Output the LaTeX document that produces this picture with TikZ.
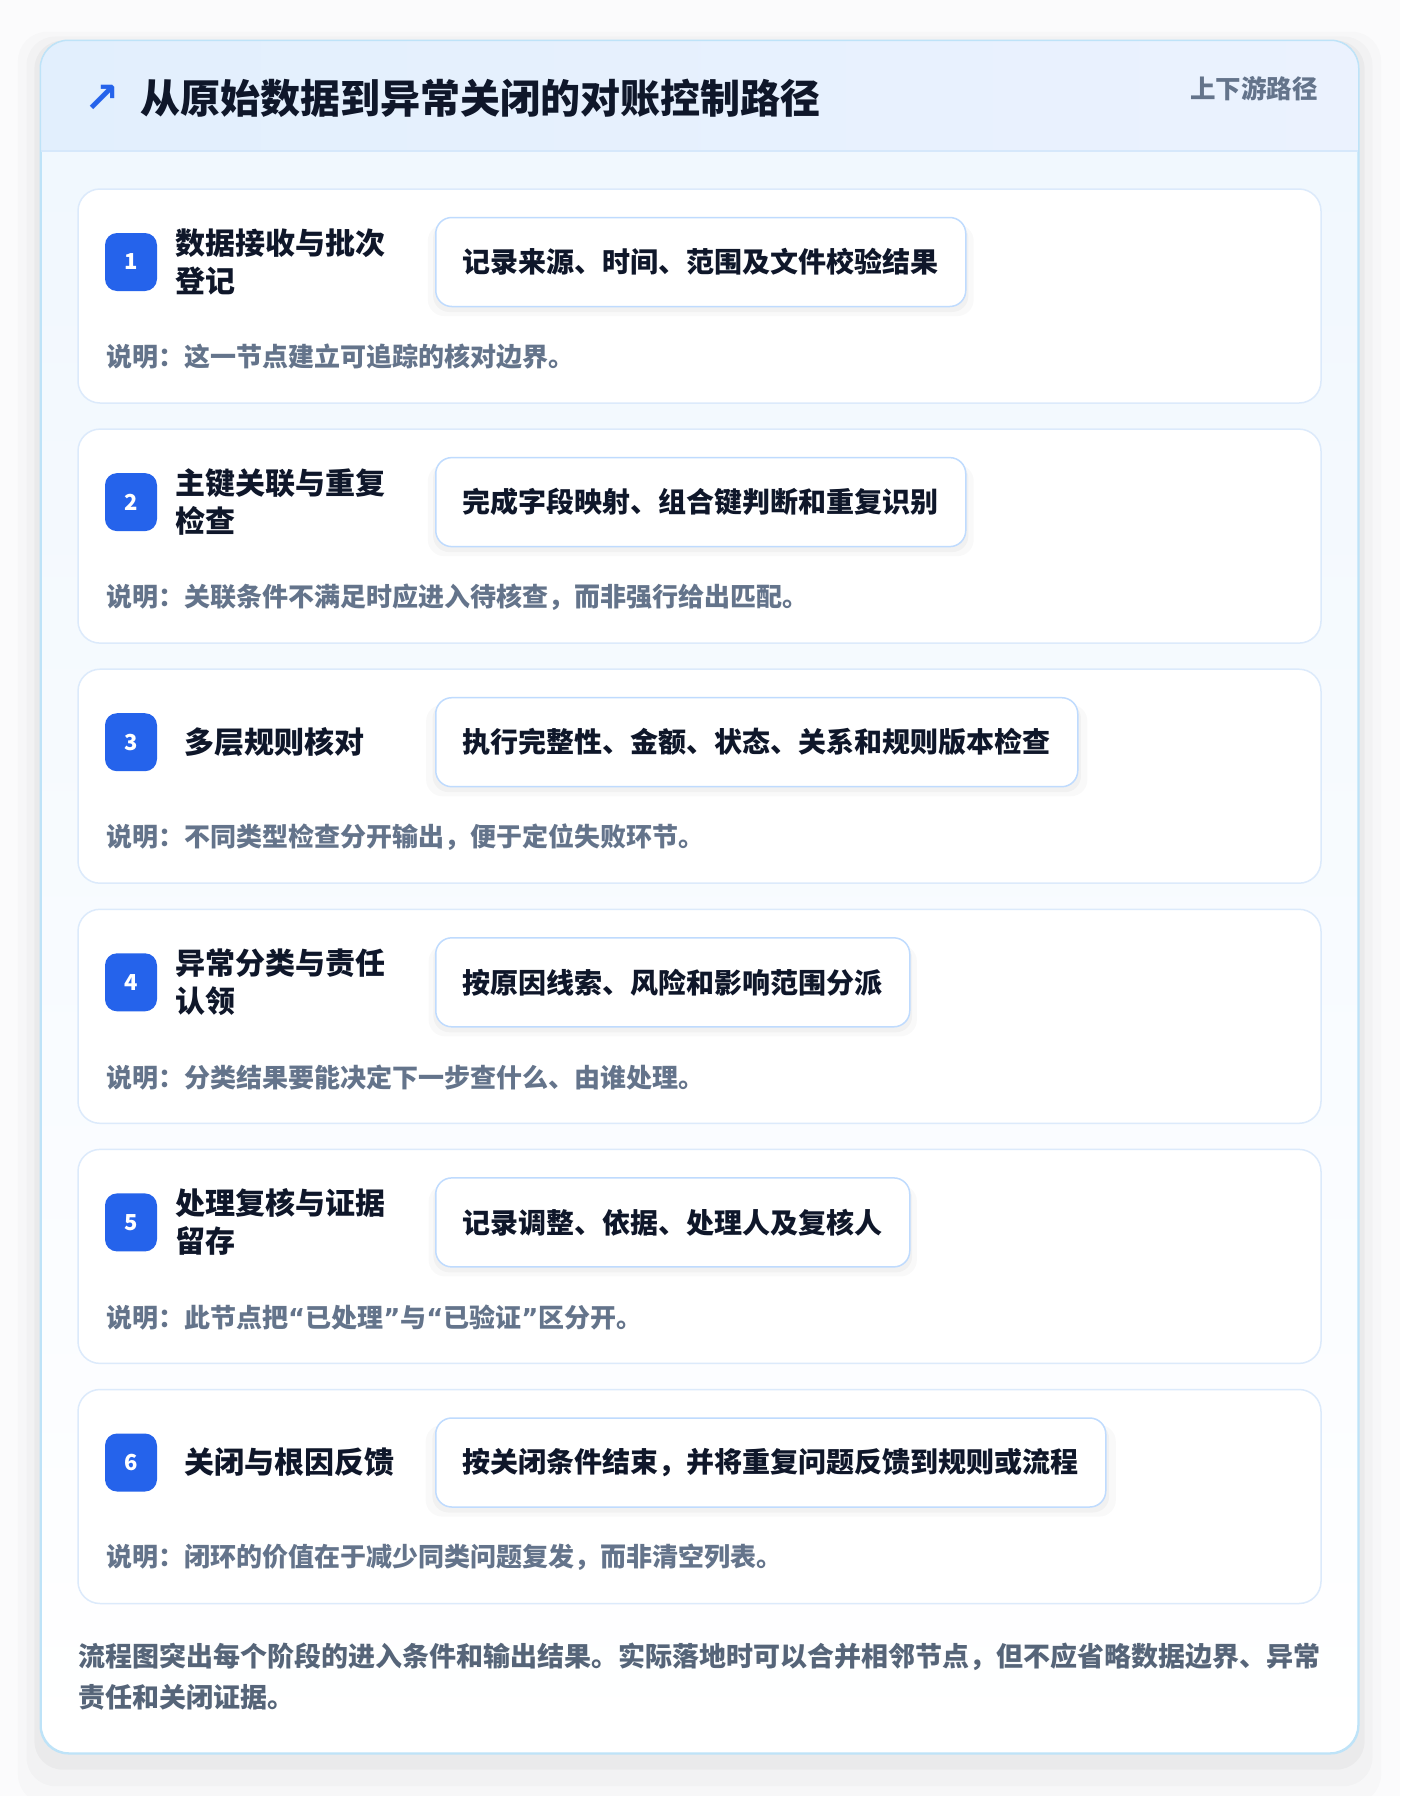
\documentclass[tikz,border=0pt]{standalone}
\usepackage{fontspec}
\setmainfont{Noto Sans CJK SC}
\newfontfamily\arrowfont{DejaVu Sans}
\usepackage{tikz}
\usetikzlibrary{shadows}
\definecolor{badgeblue}{HTML}{2563EB}
\definecolor{inkdark}{HTML}{0F172A}
\definecolor{inkgray}{HTML}{64748B}
\definecolor{footgray}{HTML}{566579}
\definecolor{cardline}{HTML}{DCEAFB}
\definecolor{boxline}{HTML}{BFDBFE}
\definecolor{frameline}{HTML}{BEE3F8}
\definecolor{headline}{HTML}{D6E8FB}
\definecolor{headleft}{HTML}{E2EFFD}
\definecolor{headright}{HTML}{EBF2FE}
\definecolor{bodytop}{HTML}{F0F7FE}
\definecolor{pagebg}{HTML}{FBFBFC}
\newcommand{\openq}{{\arrowfont\bfseries “}}
\newcommand{\closeq}{{\arrowfont\bfseries ”}}

\begin{document}
\begin{tikzpicture}
[x=1pt, y=1pt, every node/.style={inner sep=0pt},
 stepcard/.style={rectangle, rounded corners=22pt, minimum width=1243pt, minimum height=214pt, fill=white, draw=cardline, line width=1.5pt},
 badge/.style={rectangle, rounded corners=12pt, minimum width=52pt, minimum height=58pt, fill=badgeblue, text=white, font=\fontsize{22}{26}\selectfont\bfseries},
 steptitle/.style={anchor=west, align=left, text=inkdark, font=\fontsize{30}{38}\selectfont\bfseries},
 detailbox/.style={anchor=west, rectangle, rounded corners=16pt, minimum height=89pt, inner xsep=27pt, fill=white, draw=boxline, line width=1.5pt, text=inkdark, font=\fontsize{28}{34}\selectfont\bfseries,
   drop shadow={shadow xshift=0pt, shadow yshift=-8pt, shadow scale=1.03, opacity=0.025, fill=black},
   drop shadow={shadow xshift=0pt, shadow yshift=-5pt, shadow scale=1.01, opacity=0.03, fill=black}},
 note/.style={anchor=west, text=inkgray, font=\fontsize{26}{30}\selectfont\bfseries}]
\useasboundingbox (0,0) rectangle (1400,-1796);
\fill [pagebg] (0,0) rectangle (1400,-1796);
\node (frame) [rectangle, rounded corners=28pt, minimum width=1317pt, minimum height=1712pt, top color=bodytop, bottom color=white, draw=frameline, line width=1.5pt,
   drop shadow={shadow xshift=0pt, shadow yshift=-20pt, shadow scale=1.035, opacity=0.015, fill=black},
   drop shadow={shadow xshift=0pt, shadow yshift=-14pt, shadow scale=1.022, opacity=0.02, fill=black},
   drop shadow={shadow xshift=0pt, shadow yshift=-8pt, shadow scale=1.01, opacity=0.03, fill=black}] at (699.5,-897) {};
\begin{scope}
\clip [rounded corners=28pt] (frame.north west) rectangle (frame.south east);
\fill [left color=headleft, right color=headright] (frame.north west) rectangle (1358,-151);
\end{scope}
\draw [headline, line width=1.5pt] (frame.west |- 0,-151) -- (frame.east |- 0,-151);
\draw [frameline, line width=1.5pt, rounded corners=28pt] (frame.north west) rectangle (frame.south east);
\node (icon) at (102,-99) [text=badgeblue, font=\fontsize{42}{42}\selectfont\arrowfont\bfseries] {↗};
\node (title) at (140,-98) [anchor=west, text=inkdark, font=\fontsize{40}{48}\selectfont\bfseries] {从原始数据到异常关闭的对账控制路径};
\node (tag) at (1318,-89) [anchor=east, text=inkgray, font=\fontsize{25.5}{30}\selectfont\bfseries] {上下游路径};
\node (card1) [stepcard] at (699.5,-296) {};
\node (badge1) [badge] at (131,-262) {1};
\node (title1) [steptitle] at (175,-262) {数据接收与批次\\登记};
\node (box1) [detailbox] at (435,-262) {记录来源、时间、范围及文件校验结果};
\node (note1) [note] at (106,-357) {说明：这一节点建立可追踪的核对边界。};
\node (card2) [stepcard] at (699.5,-536.1) {};
\node (badge2) [badge] at (131,-502.1) {2};
\node (title2) [steptitle] at (175,-502.1) {主键关联与重复\\检查};
\node (box2) [detailbox] at (435,-502.1) {完成字段映射、组合键判断和重复识别};
\node (note2) [note] at (106,-597.1) {说明：关联条件不满足时应进入待核查，而非强行给出匹配。};
\node (card3) [stepcard] at (699.5,-776.2) {};
\node (badge3) [badge] at (131,-742.2) {3};
\node (title3) [steptitle] at (184,-742.2) {多层规则核对};
\node (box3) [detailbox] at (435,-742.2) {执行完整性、金额、状态、关系和规则版本检查};
\node (note3) [note] at (106,-837.2) {说明：不同类型检查分开输出，便于定位失败环节。};
\node (card4) [stepcard] at (699.5,-1016.3) {};
\node (badge4) [badge] at (131,-982.3) {4};
\node (title4) [steptitle] at (175,-982.3) {异常分类与责任\\认领};
\node (box4) [detailbox] at (435,-982.3) {按原因线索、风险和影响范围分派};
\node (note4) [note] at (106,-1077.3) {说明：分类结果要能决定下一步查什么、由谁处理。};
\node (card5) [stepcard] at (699.5,-1256.4) {};
\node (badge5) [badge] at (131,-1222.4) {5};
\node (title5) [steptitle] at (175,-1222.4) {处理复核与证据\\留存};
\node (box5) [detailbox] at (435,-1222.4) {记录调整、依据、处理人及复核人};
\node (note5) [note] at (106,-1317.4) {说明：此节点把\openq 已处理\closeq 与\openq 已验证\closeq 区分开。};
\node (card6) [stepcard] at (699.5,-1496.5) {};
\node (badge6) [badge] at (131,-1462.5) {6};
\node (title6) [steptitle] at (184,-1462.5) {关闭与根因反馈};
\node (box6) [detailbox] at (435,-1462.5) {按关闭条件结束，并将重复问题反馈到规则或流程};
\node (note6) [note] at (106,-1557.5) {说明：闭环的价值在于减少同类问题复发，而非清空列表。};
\node (footer) at (78,-1676.5) [anchor=west, align=left, text=footgray, font=\fontsize{27}{41}\selectfont\bfseries] {流程图突出每个阶段的进入条件和输出结果。实际落地时可以合并相邻节点，但不应省略数据边界、异常\\责任和关闭证据。};
\end{tikzpicture}
\end{document}
